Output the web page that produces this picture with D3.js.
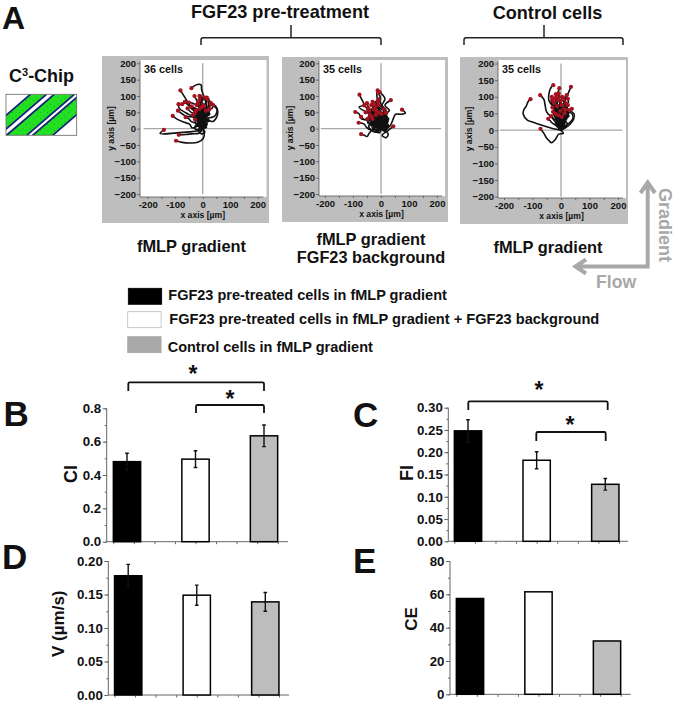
<!DOCTYPE html>
<html><head><meta charset="utf-8">
<script src="https://cdn.jsdelivr.net/npm/d3@7"></script>
<style>html,body{margin:0;padding:0;background:#fff}svg{display:block}text{font-family:"Liberation Sans",Arial,sans-serif;font-weight:700;fill:#111}</style>
</head><body><svg id="c" width="675" height="702"></svg>
<script>
// ---------- data ----------
const groups = ["FGF23 pre-treated cells in fMLP gradient","FGF23 pre-treated cells in fMLP gradient + FGF23 background","Control cells in fMLP gradient"];
const ciValues=[0.48,0.495,0.635], ciErrors=[0.05,0.05,0.065];
const fiValues=[0.248,0.182,0.128], fiErrors=[0.025,0.019,0.013];
const vValues=[0.178,0.149,0.139], vErrors=[0.017,0.015,0.014];
const ceValues=[57.5,61.5,32];
const ciTicks=[0,0.2,0.4,0.6,0.8], fiTicks=[0,0.05,0.1,0.15,0.2,0.25,0.3], vTicks=[0,0.05,0.1,0.15,0.2], ceTicks=[0,20,40,60,80];
const trackTicks=[-200,-100,0,100,200], trackTicksY=[-200,-150,-100,-50,0,50,100,150,200];
const tracksFGF=[
[[0,0],[6,-14],[2,-30],[-18,-42],[-48,-44],[-75,-42],[-97,-37]],
[[0,0],[-6,-8],[-14,-14],[-40,-16],[-62,-18],[-87,-19]],
[[0,0],[-12,-6],[-50,-10],[-95,-13],[-155,-15],[-141,-4]],
[[0,0],[-14,8],[-38,2],[-48,14],[-70,20],[-95,30],[-109,39]],
[[0,0],[-6,18],[-18,30],[-16,48],[-38,62],[-62,92],[-81,117]],
[[0,0],[10,22],[4,45],[14,70],[4,98],[-4,120],[-6,134],[-20,135],[-41,124]],
[[0,0],[14,12],[6,28],[30,34],[46,40],[52,58],[38,72],[15,95]],
[[0,0],[-4,20],[18,26],[38,22],[54,44],[48,68],[30,75]],
[[0,0],[-8,14],[-24,26],[-38,38],[-60,48],[-85,62],[-88,75]],
[[0,0],[-16,18],[-8,30],[-34,36],[-60,38],[-90,55]],
[[0,0],[-10,22],[-2,38],[-22,50],[-42,62],[-58,78],[-75,75]],
[[0,0],[4,18],[-12,30],[-4,48],[-26,60],[-45,68],[-65,82]],
[[0,0],[-12,12],[-4,26],[-18,44],[-10,62],[-36,78],[-50,80]],
[[0,0],[8,14],[-8,28],[6,46],[-8,62],[-18,80],[-30,100]],
[[0,0],[12,16],[-2,34],[16,50],[2,66],[14,84],[-10,100]],
[[0,0],[-3,22],[10,36],[-6,54],[8,68],[-4,82],[8,95]],
[[0,0],[16,14],[2,32],[18,48],[6,62],[24,66],[30,78]],
[[0,0],[8,24],[-4,34],[20,42],[12,58],[34,62],[38,72]],
[[0,0],[-18,10],[-6,24],[-28,32],[-18,44],[-42,50],[-55,62]],
[[0,0],[-8,12],[4,24],[-16,30],[-6,42],[-22,44],[-28,50]],
[[0,0],[6,14],[-10,22],[2,36],[-14,46],[-22,60],[-40,68]],
[[0,0],[-4,10],[10,22],[-8,34],[6,50],[-10,64],[-18,78]],
[[0,0],[12,10],[-4,22],[10,38],[-6,46],[12,60],[2,72]],
[[0,0],[-10,18],[6,30],[-12,44],[4,56],[-8,72],[-12,88]],
[[0,0],[-2,14],[-18,20],[-4,34],[-20,40],[-8,50],[-25,55]],
[[0,0],[8,10],[-6,26],[14,34],[2,52],[20,68],[18,90]],
[[0,0],[-12,4],[0,16],[-14,24],[2,38],[-12,48],[-6,65]],
[[0,0],[10,6],[-8,14],[8,28],[-6,40],[12,52],[5,68]],
[[0,0],[-6,6],[-24,12],[-8,22],[-26,30],[-18,38],[-35,42]],
[[0,0],[14,4],[4,16],[24,24],[10,34],[26,44],[12,55]],
[[0,0],[4,12],[-12,18],[-2,32],[-16,42],[-8,58],[-22,72]],
[[0,0],[-8,16],[8,30],[-10,42],[6,60],[-8,78],[-3,90],[-12,100]],
[[0,0],[-14,-4],[-30,2],[-22,14],[-42,22],[-50,30],[-62,35]],
[[0,0],[8,-10],[-4,-16],[-16,-6],[-10,8],[-24,16],[-28,28]],
[[0,0],[12,8],[0,18],[18,26],[8,38],[22,48],[25,60]],
[[0,0],[-3,8],[-14,10],[-2,20],[-16,28],[-4,38],[-12,60]]];
const tracksBG=[
[[0,0],[-12,-6],[-28,-2],[-42,-14],[-50,-24],[-60,-20],[-71,-17]],
[[0,0],[-22,6],[-34,-4],[-52,4],[-60,14],[-80,18]],
[[0,0],[-14,14],[-36,10],[-52,26],[-70,30],[-78,45],[-92,51]],
[[0,0],[-16,18],[-30,12],[-40,38],[-50,60],[-62,78],[-77,104]],
[[0,0],[12,-6],[26,-16],[18,-28],[4,-20],[22,-8],[44,7]],
[[0,0],[14,10],[30,6],[42,26],[52,44],[72,44],[87,48],[75,58]],
[[0,0],[8,22],[24,18],[18,44],[30,56],[14,72],[35,87]],
[[0,0],[-12,16],[2,34],[-20,50],[-28,72],[-14,88],[-15,105],[-12,117]],
[[0,0],[-26,8],[-14,20],[-48,18],[-36,30],[-60,28],[-71,36]],
[[0,0],[-20,12],[-34,28],[-22,42],[-50,50],[-78,66],[-60,71]],
[[0,0],[-8,20],[-24,28],[-14,46],[-34,58],[-20,70],[-30,82]],
[[0,0],[12,18],[-6,36],[10,54],[-14,70],[-2,90],[-10,110]],
[[0,0],[16,14],[2,32],[18,52],[2,68],[14,92],[-5,112]],
[[0,0],[-18,8],[-6,22],[-30,32],[-20,46],[-42,62],[-50,78]],
[[0,0],[-26,16],[-10,28],[-38,38],[-26,50],[-34,52],[-45,62]],
[[0,0],[14,8],[-4,24],[10,38],[-12,52],[-6,62],[-28,78]],
[[0,0],[-14,4],[-30,14],[-18,24],[-40,30],[-36,42],[-55,50]],
[[0,0],[22,6],[8,20],[24,32],[6,44],[-4,56],[-22,70]],
[[0,0],[-20,-10],[-36,-4],[-44,10],[-28,20],[-48,30],[-40,42]],
[[0,0],[10,14],[-8,20],[4,34],[-18,38],[-14,50],[-25,58]],
[[0,0],[-6,10],[-20,12],[-6,24],[-22,32],[-8,42],[-15,52]],
[[0,0],[24,12],[10,26],[22,38],[4,44],[14,58],[-8,72]],
[[0,0],[-14,-10],[-28,-6],[-18,8],[-38,14],[-28,24],[-48,30]],
[[0,0],[12,-8],[24,4],[8,14],[20,24],[4,32],[2,45]],
[[0,0],[-4,22],[-22,26],[-10,40],[-30,46],[-24,60],[-35,72]],
[[0,0],[20,4],[6,16],[26,24],[10,32],[22,46],[10,60]],
[[0,0],[-16,14],[-2,28],[-20,38],[-6,50],[-22,62],[-12,82]],
[[0,0],[-24,-2],[-34,12],[-18,18],[-38,30],[-28,40],[-42,55]],
[[0,0],[10,8],[-6,14],[12,24],[-4,30],[10,40],[-6,48]],
[[0,0],[-4,-12],[-18,-8],[-8,6],[-24,12],[-12,22],[-30,30]],
[[0,0],[18,-2],[28,10],[12,18],[28,30],[14,38],[18,48]],
[[0,0],[-10,10],[4,20],[-12,28],[2,38],[-14,44],[-20,60]],
[[0,0],[6,10],[-12,12],[0,22],[-14,24],[-4,34],[-18,42]],
[[0,0],[-12,2],[-26,8],[-12,16],[-28,20],[-20,30],[-35,38]],
[[0,0],[10,16],[22,30],[6,42],[18,56],[2,72],[-8,90]]];
const tracksCtl=[
[[0,0],[8,-10],[-8,-12],[-20,-28],[-33,-38],[-42,-32],[-52,-22],[-60,-10],[-72,4]],
[[0,0],[-30,5],[-70,15],[-100,24],[-118,30],[-133,49],[-130,62],[-122,72],[-115,86],[-107,93]],
[[0,0],[-8,22],[-14,40],[-24,66],[-42,88],[-40,118],[-33,130],[-27,135]],
[[0,0],[8,20],[16,36],[24,58],[12,80],[24,108],[35,130]],
[[0,0],[-14,18],[-30,36],[-50,54],[-56,76],[-60,92],[-73,105]],
[[0,0],[-4,26],[6,48],[-6,72],[4,92],[-10,108],[-6,126]],
[[0,0],[14,12],[30,22],[42,36],[38,50],[20,55],[38,64]],
[[0,0],[-8,6],[-18,14],[-32,22],[-38,28],[-45,34]],
[[0,0],[8,16],[20,34],[26,54],[14,72],[26,84],[24,94]],
[[0,0],[18,8],[34,20],[44,32],[46,48],[28,60]],
[[0,0],[-6,18],[-18,34],[-26,52],[-20,70],[-34,84],[-32,100]],
[[0,0],[-10,20],[-4,40],[-20,58],[-12,72],[-34,80],[-30,90]],
[[0,0],[4,24],[-8,44],[2,60],[-14,78],[-10,94],[-18,108]],
[[0,0],[-4,20],[8,38],[-6,56],[6,72],[-6,90],[-8,110]],
[[0,0],[6,18],[16,38],[6,56],[18,74],[8,90],[20,105]],
[[0,0],[10,14],[0,32],[12,50],[0,68],[12,84],[4,100]],
[[0,0],[-12,14],[-6,30],[-22,42],[-14,56],[-28,68],[-25,82]],
[[0,0],[-5,12],[-18,24],[-8,38],[-24,48],[-18,56],[-30,68]],
[[0,0],[2,14],[-10,28],[2,44],[-10,58],[2,74],[-12,92]],
[[0,0],[8,8],[-2,24],[12,40],[2,56],[16,72],[8,92]],
[[0,0],[-3,10],[8,22],[-6,36],[6,48],[-4,62],[2,75]],
[[0,0],[-8,8],[-4,20],[-16,28],[-10,38],[-24,44],[-28,55]],
[[0,0],[6,10],[14,22],[4,32],[20,42],[8,52],[14,62]],
[[0,0],[-4,16],[-14,28],[-2,40],[-14,52],[-4,62],[-14,72]],
[[0,0],[10,16],[2,30],[16,44],[6,56],[22,68],[18,80]],
[[0,0],[-6,8],[2,18],[-10,26],[0,34],[-12,40],[-18,48]],
[[0,0],[4,12],[-4,22],[6,32],[-6,42],[4,50],[-2,58]],
[[0,0],[-2,8],[8,16],[-2,26],[10,34],[2,42],[12,50]],
[[0,0],[-10,12],[-20,20],[-12,30],[-26,34],[-30,40],[-35,42]],
[[0,0],[12,6],[22,20],[10,32],[28,42],[16,58],[24,75]],
[[0,0],[-5,22],[-14,38],[-6,54],[-22,68],[-12,82],[-20,96]],
[[0,0],[2,20],[12,36],[0,52],[12,66],[-4,76],[-2,88]],
[[0,0],[-3,6],[-9,14],[-2,22],[-10,30],[-3,38],[-8,44]],
[[0,0],[6,5],[0,12],[8,20],[0,28],[8,34],[3,40]],
[[0,0],[-12,18],[-4,36],[-18,54],[-6,70],[-20,84],[-12,102]]];
const chipLines=[-17.3,-1.2,6.5,26.7,32.5,52.7];

// ---------- helpers ----------
const svg=d3.select("#c");
const t=(s,x,y,size,o={})=>svg.append("text").attr("x",x).attr("y",y).attr("font-size",size).attr("text-anchor",o.a||"start").attr("transform",o.r?`rotate(${o.r} ${x} ${y})`:null).style("fill",o.f||"#111").text(s);

// panel letters
[["A",2,29,32],["B",3.5,425.5,35],["C",353,427,35],["D",2,569,35],["E",353,573,35]].forEach(d=>t(d[0],d[1],d[2],d[3]));

// headings + brackets
t("FGF23 pre-treatment",280,17.5,18.1,{a:"middle"});
t("Control cells",547.5,18.5,18.1,{a:"middle"});
[[201,381,291],[464,623,544]].forEach(([a,b,c])=>{
  svg.append("path").attr("d",`M${a} 45V40Q${a} 37.7 ${a+2} 37.7H${b-2}Q${b} 37.7 ${b} 40V45M${c} 37.7V25`).attr("fill","none").attr("stroke","#222").attr("stroke-width",1.5);
});

// chip
const C3=t("C",9,81.5,18);
C3.append("tspan").text("3").attr("dy",-6).attr("font-size",11);
C3.append("tspan").text("-Chip").attr("dy",6);
const cx0=6,cy0=94.3,cw=70.7,ch=41;
const defs=svg.append("defs");
defs.append("clipPath").attr("id","chip").append("rect").attr("x",cx0).attr("y",cy0).attr("width",cw).attr("height",ch);
const pat=defs.append("pattern").attr("id","sp").attr("width",7).attr("height",6).attr("patternUnits","userSpaceOnUse");
pat.append("rect").attr("width",7).attr("height",6).attr("fill","#22e022");
pat.append("circle").attr("cx",2).attr("cy",2).attr("r",.5).attr("fill","#2a8a2a");
pat.append("circle").attr("cx",5.5).attr("cy",4.5).attr("r",.5).attr("fill","#2a8a2a");
const chipG=svg.append("g").attr("clip-path","url(#chip)");
chipG.append("rect").attr("x",cx0).attr("y",cy0).attr("width",cw).attr("height",ch).attr("fill","#fff");
const slopeRun=ch/0.86;
for(let i=0;i<chipLines.length;i+=2){
  const a=chipLines[i],b=chipLines[i+1];
  chipG.append("path").attr("d",`M${a} ${cy0+ch}L${a+slopeRun} ${cy0}L${b+slopeRun} ${cy0}L${b} ${cy0+ch}Z`).attr("fill","url(#sp)");
  [a,b].forEach(x=>chipG.append("line").attr("x1",x).attr("y1",cy0+ch).attr("x2",x+slopeRun).attr("y2",cy0).attr("stroke","#16207a").attr("stroke-width",1.7));
}
svg.append("rect").attr("x",cx0).attr("y",cy0).attr("width",cw).attr("height",ch).attr("fill","none").attr("stroke","#666").attr("stroke-width",.8);

// trajectory panels
function trackPanel(tracks,label,b,w,xr,yr){
  svg.append("rect").attr("x",b[0]).attr("y",b[1]).attr("width",b[2]-b[0]).attr("height",b[3]-b[1]).attr("fill","#bebebe");
  svg.append("rect").attr("x",w[0]).attr("y",w[1]).attr("width",w[2]-w[0]).attr("height",w[3]-w[1]).attr("fill","#fff");
  const x=d3.scaleLinear().domain([-200,200]).range(xr), y=d3.scaleLinear().domain([-200,200]).range(yr);
  const g=svg.append("g");
  g.append("line").attr("x1",x(-215)).attr("x2",x(215)).attr("y1",y(0)).attr("y2",y(0)).attr("stroke","#a8a8a8").attr("stroke-width",1.3);
  g.append("line").attr("x1",x(0)).attr("x2",x(0)).attr("y1",y(200)).attr("y2",y(-200)).attr("stroke","#a8a8a8").attr("stroke-width",1.3);
  const line=d3.line().x(d=>x(d[0])).y(d=>y(d[1])).curve(d3.curveCatmullRom);
  g.selectAll(".tr").data(tracks).join("path").attr("d",line).attr("fill","none").attr("stroke","#111").attr("stroke-width",1.6);
  g.selectAll(".end").data(tracks).join("circle").attr("cx",d=>x(d[d.length-1][0])).attr("cy",d=>y(d[d.length-1][1])).attr("r",2.1).attr("fill","#a5121f");
  const ax=svg.append("g").attr("transform",`translate(0,${w[3]})`).call(d3.axisBottom(x).tickValues(d3.range(9).map(i=>-200+i*50)).tickSize(2).tickFormat(d=>trackTicks.includes(d)?d:"").tickPadding(2));
  ax.select(".domain").attr("d",`M${w[0]} 0H${w[2]-3}`);
  const ay=svg.append("g").attr("transform",`translate(${w[0]},0)`).call(d3.axisLeft(y).tickValues(trackTicksY).tickSize(3).tickPadding(1));
  ay.select(".domain").attr("d",`M0 ${y(208)}V${w[3]}`);
  [ax,ay].forEach(a=>{a.selectAll("text").attr("font-size",9.5);a.selectAll("line,.domain").attr("stroke","#555").attr("stroke-width",.8);});
  t("x axis [µm]",(w[0]+w[2])/2-.5,w[3]+21,8.6,{a:"middle"});
  t("y axis [µm]",w[0]-26,(w[1]+w[3])/2,8.6,{a:"middle",r:-90});
  t(label,w[0]+4,72.7,10.8);
}
trackPanel(tracksFGF,"36 cells",[102,56,269,223],[140,60,266.5,197],[147.7,257.7],[194,63.3]);
trackPanel(tracksBG,"35 cells",[282,57,448,222],[319,60,445,196],[325,437],[194,63.3]);
trackPanel(tracksCtl,"35 cells",[460,57,628,224],[498,60,626,198],[504,618],[196.7,63.5]);

t("fMLP gradient",191.5,252,16.4,{a:"middle"});
t("fMLP gradient",371,244.5,16.4,{a:"middle"});
t("FGF23 background",371,263,16.3,{a:"middle"});
t("fMLP gradient",548,252.5,16.4,{a:"middle"});

// flow / gradient arrows
const ag="#a8a8a8";
svg.append("path").attr("d","M647.7 184V266.5H578M640.5 193L647.7 182.5L655 193M586 259.5L575.5 266.5L586 273.5").attr("fill","none").attr("stroke",ag).attr("stroke-width",4);
t("Flow",596,288,17.6,{f:ag});
t("Gradient",658.5,188,18,{f:ag,r:90});

// legend
[[128.3,288.3,"#000","#000"],[127.7,311.7,"#fff","#bbb"],[127.7,336.7,"#a8a8a8","#a8a8a8"]].forEach(d=>
  svg.append("rect").attr("x",d[0]).attr("y",d[1]).attr("width",33.4).attr("height",16).attr("fill",d[2]).attr("stroke",d[3]).attr("stroke-width",.8));
t(groups[0],168.3,300.3,14.5);
t(groups[1],169.3,324.3,14.6);
t(groups[2],167.7,351.7,14.5);

// bar charts
const fills=["#000","#fff","#bdbdbd"];
function barChart(o){
  const y=d3.scaleLinear().domain([0,o.max]).range([o.y0,o.y1]);
  const x=d3.scaleLinear().domain([1,3]).range([o.c1,o.c3]);
  const bw=27.3;
  const g=svg.append("g");
  const ax=g.append("g").attr("transform",`translate(0,${o.y0})`).call(d3.axisBottom(x).tickValues(d3.range(9).map(i=>0.8+i*0.3)).tickSize(2.5).tickFormat(""));
  ax.select(".domain").attr("d",`M${o.ax} 0H${o.xEnd}`);
  ax.selectAll("line,.domain").attr("stroke","#666").attr("stroke-width",1);
  const minor=d3.range(o.ticks.length*2-1).map(i=>i*(o.ticks[1]-o.ticks[0])/2);
  g.append("g").attr("transform",`translate(${o.ax},0)`).call(d3.axisLeft(y).tickValues(minor).tickSize(2).tickFormat("")).call(s=>{s.select(".domain").remove();s.selectAll("line").attr("stroke","#666");});
  const ay=g.append("g").attr("transform",`translate(${o.ax},0)`).call(d3.axisLeft(y).tickValues(o.ticks).tickSize(4).tickPadding(1.5).tickFormat(d3.format(o.fmt)));
  ay.selectAll("text").attr("font-size",13.3);
  ay.selectAll("line,.domain").attr("stroke","#666").attr("stroke-width",1);
  ay.select(".domain").attr("d",`M0 ${o.y1}V${o.y0}`);
  g.selectAll(".bar").data(o.values).join("rect").attr("x",(d,i)=>x(i+1)-bw/2).attr("width",bw).attr("y",d=>y(d)).attr("height",d=>o.y0-y(d)).attr("fill",(d,i)=>fills[i]).attr("stroke","#000").attr("stroke-width",1.5);
  if(o.errors) o.values.forEach((v,i)=>{
    const e=o.errors[i],c=x(i+1);
    g.append("path").attr("d",`M${c} ${y(v-e)}V${y(v+e)}M${c-1.8} ${y(v-e)}H${c+1.8}M${c-1.8} ${y(v+e)}H${c+1.8}`).attr("stroke","#111").attr("stroke-width",1.4).attr("fill","none");
  });
  t(o.label,o.lx,o.ly,o.ls,{a:"middle",r:-90});
}
barChart({values:ciValues,errors:ciErrors,ticks:ciTicks,max:.8,fmt:".1f",ax:106.7,y0:541.7,y1:408.3,c1:127,c3:264,xEnd:288,label:"CI",lx:77.3,ly:474,ls:18});
barChart({values:fiValues,errors:fiErrors,ticks:fiTicks,max:.3,fmt:".2f",ax:448.3,y0:541.3,y1:407.7,c1:468,c3:605.3,xEnd:628,label:"FI",lx:412.7,ly:473,ls:18});
barChart({values:vValues,errors:vErrors,ticks:vTicks,max:.2,fmt:".2f",ax:108.3,y0:695,y1:561,c1:128.2,c3:265.3,xEnd:289,label:"V (µm/s)",lx:64,ly:623.7,ls:17});
barChart({values:ceValues,ticks:ceTicks,max:80,fmt:"d",ax:450,y0:694.3,y1:561,c1:470,c3:607,xEnd:630.7,label:"CE",lx:417,ly:619,ls:17});

// significance brackets
[[128.3,264,382.3,391,193,381.5],[196,264,405,413,230,406.5],[468.3,607.7,401.3,410,539,397.5],[536.3,605.7,432,441,570,433]].forEach(([a,b,y,dn,sx,sy])=>{
  svg.append("path").attr("d",`M${a} ${dn}V${y+1.5}Q${a} ${y} ${a+1.5} ${y}H${b-1.5}Q${b} ${y} ${b} ${y+1.5}V${dn}`).attr("fill","none").attr("stroke","#111").attr("stroke-width",1.8);
  t("*",sx,sy,23,{a:"middle"});
});
</script></body></html>
